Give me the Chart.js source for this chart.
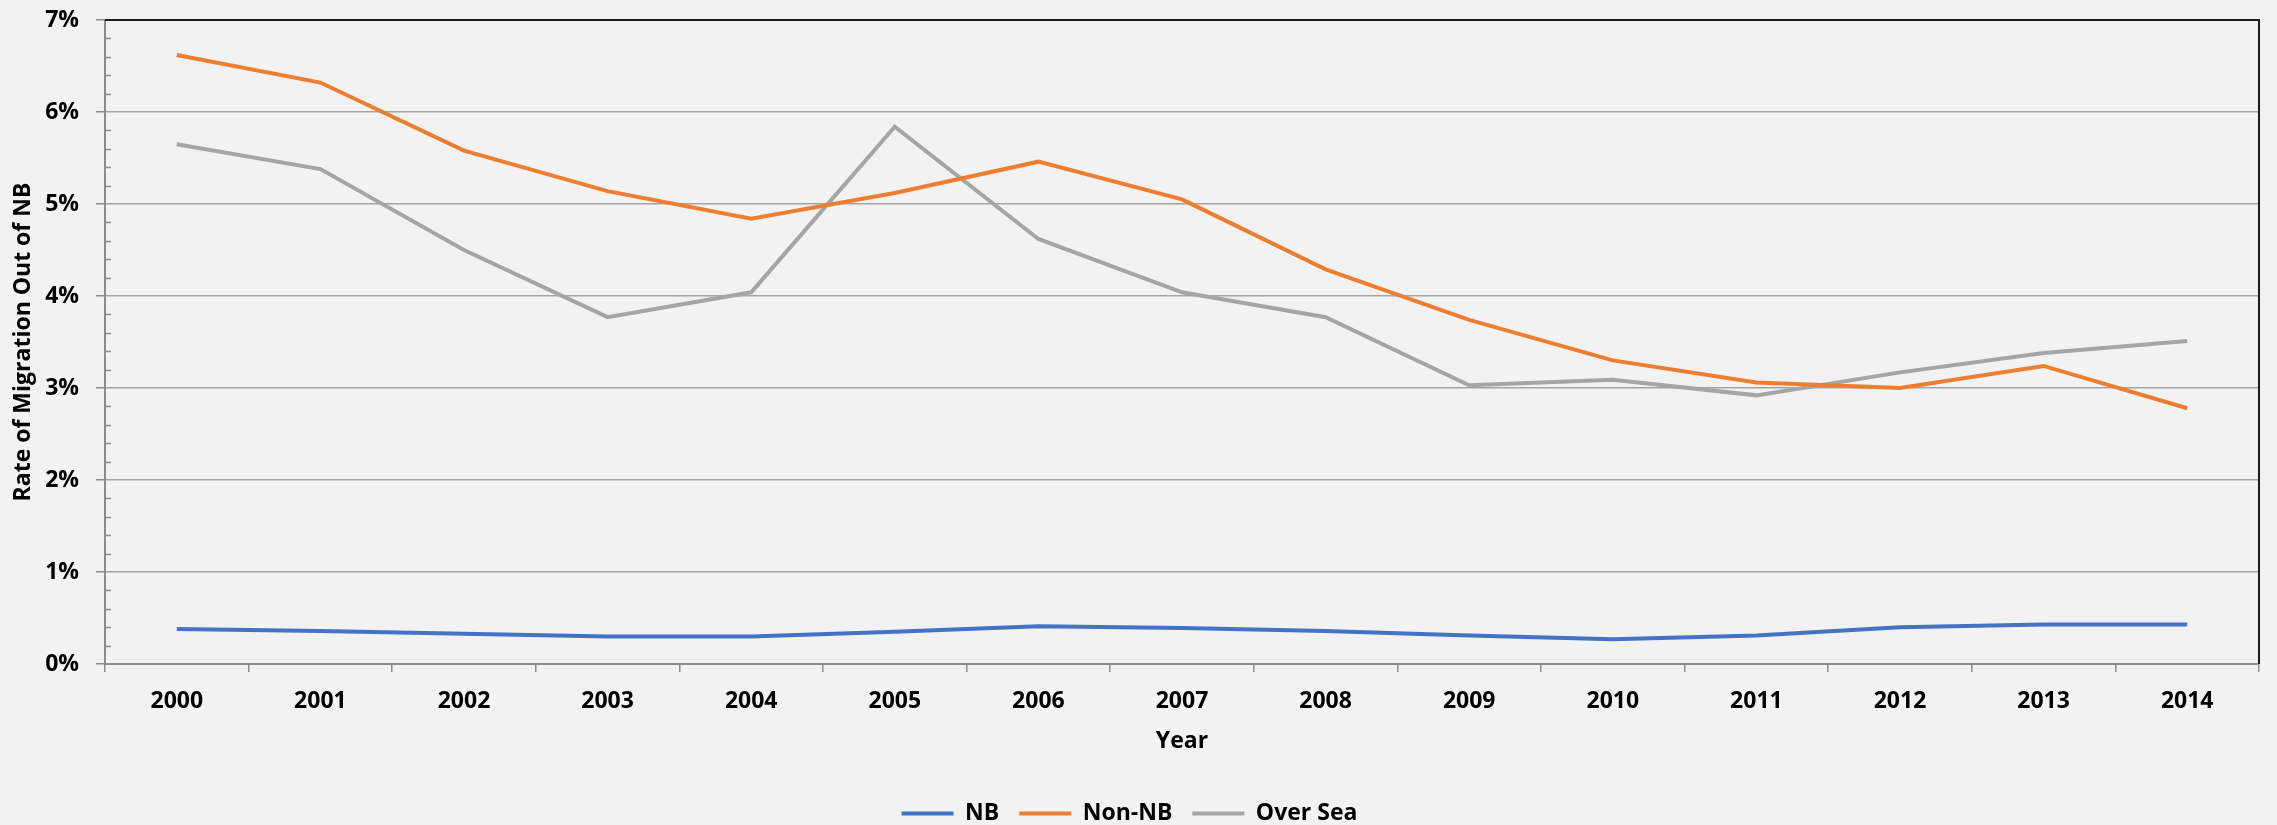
<!DOCTYPE html>
<html>
<head>
<meta charset="utf-8">
<script src="https://cdn.jsdelivr.net/npm/chart.js@4.4.1/dist/chart.umd.min.js"></script>
<style>
  html, body { margin: 0; padding: 0; background: #f2f2f2; }
  #wrap { width: 2277px; height: 825px; }
</style>
</head>
<body>
<div id="wrap"><canvas id="migrationChart"></canvas></div>
<script>
const years = ['2000','2001','2002','2003','2004','2005','2006','2007','2008','2009','2010','2011','2012','2013','2014'];
const nbRate = [0.38, 0.36, 0.33, 0.30, 0.30, 0.35, 0.41, 0.39, 0.36, 0.31, 0.27, 0.31, 0.40, 0.43, 0.43];
const nonNbRate = [6.62, 6.32, 5.58, 5.14, 4.84, 5.12, 5.46, 5.05, 4.29, 3.74, 3.30, 3.06, 3.00, 3.24, 2.78];
const overSeaRate = [5.65, 5.38, 4.50, 3.77, 4.04, 5.84, 4.62, 4.04, 3.77, 3.03, 3.09, 2.92, 3.17, 3.38, 3.51];
const yTicks = [0, 1, 2, 3, 4, 5, 6, 7];

const axisgray = '#8c8c8c';
const gridgray = '#a3a3a3';
let chartfont = {
  family: "'Open Sans', sans-serif",
  size: 23,
  weight: 'bold'
};

// minor ticks on the y axis plus black top / right frame
const framePlugin = {
  id: 'framePlugin',
  afterDraw(chart) {
    const c = chart.ctx;
    const area = chart.chartArea;
    const y = chart.scales.y;
    c.save();
    c.strokeStyle = axisgray;
    c.lineWidth = 1.5;
    for (let v = 0; v <= 7; v += 0.2) {
      if (Math.abs(v - Math.round(v)) < 0.01) continue;
      const py = Math.round(y.getPixelForValue(v)) + 0.5;
      c.beginPath();
      c.moveTo(area.left, py);
      c.lineTo(area.left + 6, py);
      c.stroke();
    }
    c.strokeStyle = '#1a1a1a';
    c.lineWidth = 2;
    c.beginPath();
    c.moveTo(area.left, area.top);
    c.lineTo(area.right, area.top);
    c.lineTo(area.right, area.bottom);
    c.stroke();
    c.restore();
  }
};

function makeSet(label, data, color) {
  return {
    label: label,
    data: data,
    borderColor: color,
    backgroundColor: color,
    borderWidth: 4,
    pointRadius: 0,
    pointStyle: 'line',
    tension: 0,
    fill: false
  };
}

new Chart(document.getElementById('migrationChart'), {
  type: 'line',
  data: {
    labels: years,
    datasets: [
      makeSet('NB', nbRate, '#4472c4'),
      makeSet('Non-NB', nonNbRate, '#ed7d31'),
      makeSet('Over Sea', overSeaRate, '#a5a5a5')
    ]
  },
  options: {
    responsive: true,
    maintainAspectRatio: false,
    animation: false,
    layout: {
      padding: { top: 20, right: 18, bottom: -10, left: 0 }
    },
    plugins: {
      legend: {
        position: 'bottom',
        labels: {
          usePointStyle: true,
          pointStyleWidth: 52,
          padding: 20,
          color: '#000',
          font: chartfont
        }
      },
      tooltip: { enabled: false }
    },
    scales: {
      x: {
        offset: true,
        afterFit(scale) { scale.height = 118; },
        border: { display: true, color: axisgray, width: 2 },
        grid: {
          display: true,
          offset: true,
          drawOnChartArea: false,
          drawTicks: true,
          tickLength: 8,
          color: axisgray,
          lineWidth: 1.5
        },
        ticks: { color: '#000', font: chartfont, padding: 16, maxRotation: 0 },
        title: {
          display: true,
          text: 'Year',
          color: '#000',
          font: chartfont,
          padding: { top: 4, bottom: 27 }
        }
      },
      y: {
        min: 0,
        max: 7,
        afterFit(scale) {
          scale.width = 105;
          scale.paddingTop = 0;
          scale.paddingBottom = 0;
        },
        afterBuildTicks(scale) { scale.ticks = yTicks.map(v => ({ value: v })); },
        border: { display: true, color: axisgray, width: 2 },
        grid: {
          color: gridgray,
          lineWidth: 1.5,
          drawTicks: true,
          tickLength: 9,
          tickColor: axisgray
        },
        ticks: {
          color: '#000',
          font: chartfont,
          padding: 17,
          callback: v => v + '%'
        },
        title: {
          display: true,
          text: 'Rate of Migration Out of NB',
          color: '#000',
          font: chartfont,
          padding: { top: 10, bottom: 0 }
        }
      }
    }
  },
  plugins: [framePlugin]
});
</script>
</body>
</html>
